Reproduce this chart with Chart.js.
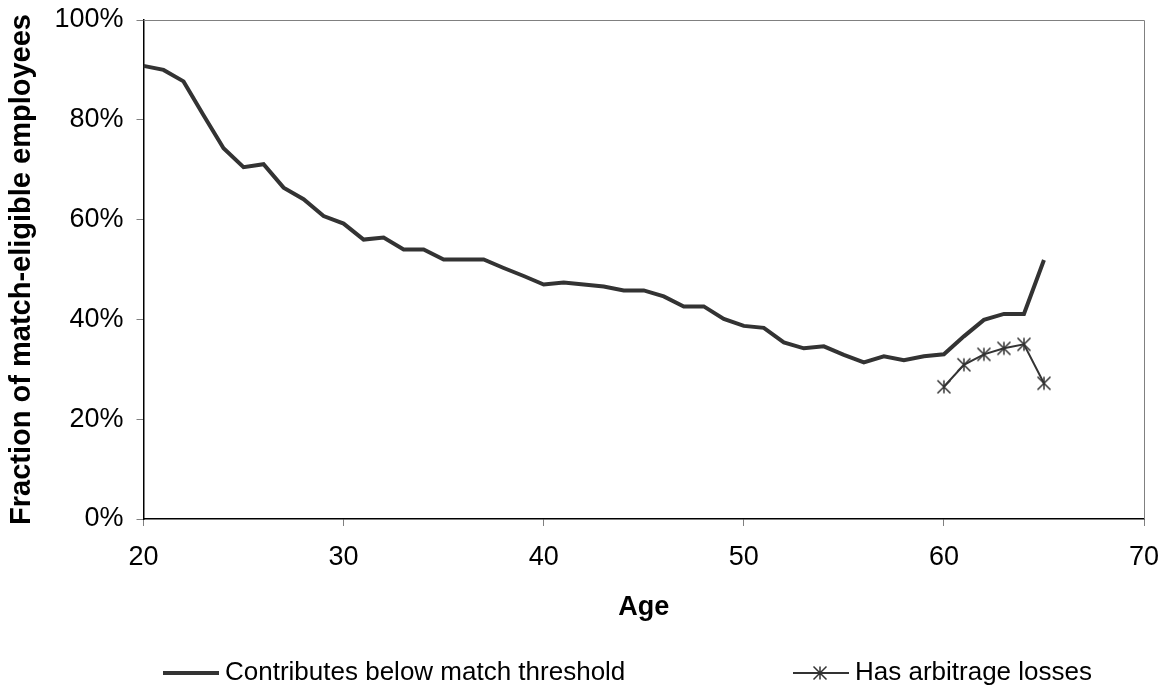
<!DOCTYPE html>
<html>
<head>
<meta charset="utf-8">
<title>Fraction of match-eligible employees by age</title>
<script src="https://cdn.jsdelivr.net/npm/chart.js@4.4.1/dist/chart.umd.min.js"></script>
<style>
  html, body { margin: 0; padding: 0; background: #fff; }
  #wrap { width: 1169px; height: 688px; }
</style>
</head>
<body>
<div id="wrap"><canvas id="ageChart" width="1169" height="688"></canvas></div>
<script>
'use strict';

// --- Data ---
const ages = [20, 21, 22, 23, 24, 25, 26, 27, 28, 29, 30, 31, 32, 33, 34, 35, 36, 37, 38, 39, 40, 41, 42,
    43, 44, 45, 46, 47, 48, 49, 50, 51, 52, 53, 54, 55, 56, 57, 58, 59, 60, 61, 62, 63, 64, 65];
const belowThreshold = [90.8, 90.0, 87.7, 80.9, 74.3, 70.5, 71.1, 66.4, 64.1, 60.7, 59.2, 56.0, 56.4, 54.0,
    54.0, 52.0, 52.0, 52.0, 50.3, 48.7, 47.0, 47.4, 47.0, 46.6, 45.8, 45.8, 44.6, 42.6, 42.6, 40.1, 38.7,
    38.3, 35.4, 34.2, 34.6, 32.9, 31.4, 32.6, 31.8, 32.6, 33.0, 36.6, 39.9, 41.1, 41.1, 51.9];
const arbitrageAges = [60, 61, 62, 63, 64, 65];
const arbitrageLosses = [26.5, 30.9, 33.0, 34.2, 35.0, 27.2];
const seriesNames = ['Contributes below match threshold', 'Has arbitrage losses'];
const xTicks = [20, 30, 40, 50, 60, 70];
const yTicks = [0, 20, 40, 60, 80, 100];

const FONT = "'Liberation Sans', Arial, sans-serif";
const INK = '#333333';

// Excel-style star marker: an X with a vertical bar
function makeStar(size, color) {
    const c = document.createElement('canvas');
    c.width = size; c.height = size;
    const g = c.getContext('2d');
    const m = size / 2, r = size / 2 - 1.5;
    g.strokeStyle = color;
    g.lineWidth = 1.5;
    g.beginPath();
    g.moveTo(m, m - r); g.lineTo(m, m + r);
    g.moveTo(m - r, m - r); g.lineTo(m + r, m + r);
    g.moveTo(m + r, m - r); g.lineTo(m - r, m + r);
    g.stroke();
    return c;
}
const starMarker = makeStar(16, INK);

const toPoints = (xs, ys) => xs.map((x, i) => ({ x: x, y: ys[i] }));

// no extra room for overhanging tick labels: the plot box is fixed by layout padding
function noOverhang(axis) {
    axis.paddingTop = 0;
    axis.paddingBottom = 0;
    axis.paddingLeft = 0;
    axis.paddingRight = 0;
}

// Plot frame (grey top/right) and bottom legend
const frameAndLegend = {
    id: 'frameAndLegend',
    afterDraw(chart) {
        const ctx = chart.ctx;
        const a = chart.chartArea;
        ctx.save();
        ctx.strokeStyle = '#808080';
        ctx.lineWidth = 1;
        ctx.beginPath();
        ctx.moveTo(a.left, a.top + 0.5);
        ctx.lineTo(a.right + 0.5, a.top + 0.5);
        ctx.lineTo(a.right + 0.5, a.bottom);
        ctx.stroke();

        const ly = 673;
        ctx.font = '26px ' + FONT;
        ctx.fillStyle = '#000';
        ctx.textBaseline = 'middle';

        const ds0 = chart.data.datasets[0];
        ctx.strokeStyle = ds0.borderColor;
        ctx.lineWidth = ds0.borderWidth;
        ctx.beginPath();
        ctx.moveTo(163, ly); ctx.lineTo(219, ly);
        ctx.stroke();
        ctx.fillText(seriesNames[0], 225, ly);

        const ds1 = chart.data.datasets[1];
        ctx.strokeStyle = ds1.borderColor;
        ctx.lineWidth = ds1.borderWidth;
        ctx.beginPath();
        ctx.moveTo(793, ly); ctx.lineTo(849, ly);
        ctx.stroke();
        ctx.drawImage(starMarker, 820 - 8, ly - 8);
        ctx.fillText(seriesNames[1], 855, ly);
        ctx.restore();
    }
};

const chart = new Chart(document.getElementById('ageChart').getContext('2d'), {
    type: 'line',
    data: {
        datasets: [
            {
                label: seriesNames[0],
                data: toPoints(ages, belowThreshold),
                borderColor: INK,
                borderWidth: 4,
                pointRadius: 0,
                tension: 0,
                fill: false
            },
            {
                label: seriesNames[1],
                data: toPoints(arbitrageAges, arbitrageLosses),
                borderColor: INK,
                borderWidth: 2,
                pointStyle: starMarker,
                pointRadius: 7,
                tension: 0,
                fill: false
            }
        ]
    },
    options: {
        responsive: false,
        animation: false,
        devicePixelRatio: 1,
        layout: { padding: { top: 20, right: 25, left: 0, bottom: 60 } },
        plugins: { legend: { display: false }, tooltip: { enabled: false } },
        scales: {
            x: {
                type: 'linear',
                min: 20,
                max: 70,
                afterBuildTicks: (axis) => { axis.ticks = xTicks.map(v => ({ value: v })); },
                afterFit: (axis) => { axis.height = 109; noOverhang(axis); },
                border: { color: '#000', width: 1.5 },
                grid: { drawOnChartArea: false, tickLength: 7, color: '#808080' },
                ticks: { color: '#000', padding: 15, font: { family: FONT, size: 27 }, maxRotation: 0 },
                title: {
                    display: true,
                    text: 'Age',
                    color: '#000',
                    font: { family: FONT, size: 27, weight: 'bold', lineHeight: 1.2 },
                    padding: { top: 0, bottom: 4 }
                }
            },
            y: {
                min: 0,
                max: 100,
                afterBuildTicks: (axis) => { axis.ticks = yTicks.map(v => ({ value: v })); },
                afterFit: (axis) => { axis.width = 143.5; noOverhang(axis); },
                border: { color: '#000', width: 1.5 },
                grid: { drawOnChartArea: false, tickLength: 7, color: '#808080' },
                ticks: {
                    color: '#000',
                    padding: 13,
                    font: { family: FONT, size: 27 },
                    callback: (v) => v + '%'
                },
                title: {
                    display: true,
                    text: 'Fraction of match-eligible employees',
                    color: '#000',
                    font: { family: FONT, size: 29, weight: 'bold', lineHeight: 1.2 },
                    padding: { top: 5, bottom: 0 }
                }
            }
        }
    },
    plugins: [frameAndLegend]
});
</script>
</body>
</html>
